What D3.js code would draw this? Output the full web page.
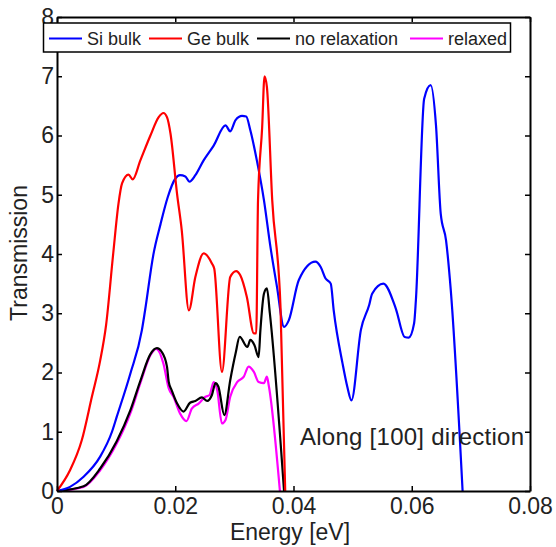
<!DOCTYPE html>
<html>
<head>
<meta charset="utf-8">
<script src="https://cdn.jsdelivr.net/npm/d3@7"></script>
<style>
  body { margin: 0; background: #fff; }
  text { font-family: "Liberation Sans", Arial, sans-serif; }
</style>
</head>
<body>
<script>
// energy [eV] / transmission pairs
var siE = [0, 0.0022, 0.0045, 0.0073, 0.0093, 0.0101, 0.0124, 0.01435, 0.0149, 0.0163, 0.0175, 0.0187, 0.0200, 0.0208, 0.0217, 0.0224, 0.0234, 0.0248, 0.0265, 0.0285, 0.0293, 0.0302, 0.0313, 0.0320, 0.0327, 0.0338, 0.0350, 0.0361, 0.0372, 0.0384, 0.0392, 0.0409, 0.0437, 0.0446, 0.0454, 0.0463, 0.0468, 0.0483, 0.0491, 0.0498, 0.0514, 0.0528, 0.0533, 0.0552, 0.0573, 0.0588, 0.0595, 0.0604, 0.0607, 0.0621, 0.0632, 0.0641, 0.0649, 0.0658, 0.0666, 0.0686];
var siT = [0, 0.07, 0.24, 0.58, 1.0, 1.25, 1.98, 2.71, 3.05, 3.99, 4.5, 4.95, 5.27, 5.33, 5.31, 5.22, 5.33, 5.58, 5.83, 6.17, 6.07, 6.26, 6.33, 6.32, 6.09, 5.58, 4.91, 4.12, 3.45, 2.77, 2.88, 3.56, 3.87, 3.78, 3.59, 3.50, 3.05, 2.15, 1.76, 1.53, 2.72, 3.14, 3.33, 3.50, 3.08, 2.60, 2.59, 2.83, 3.22, 6.62, 6.85, 6.17, 4.68, 4.23, 3.39, 0];

var geE = [0, 0.0022, 0.0042, 0.0059, 0.0073, 0.0083, 0.0095, 0.0104, 0.0110, 0.0121, 0.0128, 0.0141, 0.0158, 0.0172, 0.0180, 0.0186, 0.0192, 0.0203, 0.0211, 0.0223, 0.0234, 0.0248, 0.0262, 0.0266, 0.0279, 0.0293, 0.0303, 0.0310, 0.0321, 0.0333, 0.0337, 0.0340, 0.0347, 0.0351, 0.0355, 0.0364, 0.0378, 0.0386];
var geT = [0, 0.35, 0.86, 1.59, 2.2, 2.8, 4.0, 4.85, 5.19, 5.34, 5.26, 5.58, 6.0, 6.31, 6.38, 6.31, 6.03, 5.02, 4.40, 3.05, 3.61, 4.01, 3.84, 3.75, 2.01, 3.61, 3.71, 3.64, 3.28, 2.66, 2.66, 4.91, 6.14, 7.0, 6.82, 4.91, 3.11, 0];

var noRelE = [0, 0.0045, 0.0073, 0.0101, 0.0124, 0.0141, 0.0158, 0.0169, 0.0177, 0.0186, 0.0189, 0.0194, 0.0203, 0.0214, 0.0225, 0.0234, 0.0245, 0.0254, 0.0262, 0.0268, 0.0273, 0.0283, 0.0293, 0.0302, 0.0309, 0.0322, 0.0327, 0.0334, 0.0341, 0.0344, 0.0350, 0.0355, 0.0360, 0.0384];
var noRelT = [0, 0.08, 0.38, 0.84, 1.36, 1.86, 2.31, 2.41, 2.35, 2.10, 1.84, 1.70, 1.48, 1.34, 1.49, 1.52, 1.58, 1.52, 1.62, 1.82, 1.76, 1.28, 1.87, 2.32, 2.60, 2.43, 2.55, 2.46, 2.26, 2.71, 3.33, 3.42, 3.0, 0];

var relE = [0, 0.0045, 0.0073, 0.0101, 0.0124, 0.0141, 0.0158, 0.0168, 0.0180, 0.0189, 0.0197, 0.0208, 0.0219, 0.0228, 0.0240, 0.0251, 0.0258, 0.0265, 0.0271, 0.0279, 0.0285, 0.0293, 0.0305, 0.0316, 0.0324, 0.0333, 0.0341, 0.0350, 0.0355, 0.0358, 0.0377];
var relT = [0, 0.07, 0.35, 0.80, 1.31, 1.82, 2.29, 2.40, 2.15, 1.73, 1.59, 1.31, 1.18, 1.39, 1.48, 1.59, 1.62, 1.84, 1.70, 1.14, 1.20, 1.59, 1.84, 1.93, 2.10, 2.01, 1.84, 1.82, 1.93, 1.79, 0];

var seriesNames = ['Si bulk', 'Ge bulk', 'no relaxation', 'relaxed'];
var seriesColors = ['#0000ff', '#ff0000', '#000000', '#ff00ff'];
var xTicks = [0, 0.02, 0.04, 0.06, 0.08];
var yTicks = [0, 1, 2, 3, 4, 5, 6, 7, 8];

var width = 556,
    height = 547,
    plotL = 57, plotR = 530, plotT = 17, plotB = 491;

var svg = d3.select('body')
    .append('svg')
    .attr('width', width)
    .attr('height', height);

var x = d3.scaleLinear().domain([0, 0.08]).range([plotL, plotR]);
var y = d3.scaleLinear().domain([0, 8]).range([plotB, plotT]);

var series = [
    d3.zip(siE, siT),
    d3.zip(geE, geT),
    d3.zip(noRelE, noRelT),
    d3.zip(relE, relT)
];

var line = d3.line()
    .curve(d3.curveMonotoneX)
    .x(d => x(d[0]))
    .y(d => y(d[1]));

// relaxed goes under no relaxation, like the figure
[3, 2, 0, 1].forEach(i => {
    svg.append('path')
        .attr('d', line(series[i]))
        .attr('fill', 'none')
        .attr('stroke', seriesColors[i])
        .attr('stroke-width', 2.2)
        .attr('stroke-linejoin', 'round');
});

// axes, ticks inward on all four sides
var fmt = d => d === 0 ? '0' : String(d);
svg.append('g')
    .attr('transform', 'translate(0,' + plotB + ')')
    .call(d3.axisBottom(x).tickValues(xTicks).tickFormat(fmt).tickSizeInner(-5).tickSizeOuter(0).tickPadding(7));
svg.append('g')
    .attr('transform', 'translate(0,' + plotT + ')')
    .call(d3.axisTop(x).tickValues(xTicks).tickFormat('').tickSizeInner(-5).tickSizeOuter(0));
svg.append('g')
    .attr('transform', 'translate(' + plotL + ',0)')
    .call(d3.axisLeft(y).tickValues(yTicks).tickFormat(d3.format('d')).tickSizeInner(-5).tickSizeOuter(0).tickPadding(3));
svg.append('g')
    .attr('transform', 'translate(' + plotR + ',0)')
    .call(d3.axisRight(y).tickValues(yTicks).tickFormat('').tickSizeInner(-5).tickSizeOuter(0));

svg.selectAll('.domain').attr('stroke', '#000').attr('stroke-width', 2);
svg.selectAll('.tick line').attr('stroke', '#000').attr('stroke-width', 1.5);
svg.selectAll('.tick text')
    .attr('font-size', 23)
    .attr('fill', '#222')
    .style('font-family', '"Liberation Sans", Arial, sans-serif');

// axis titles
svg.append('text')
    .attr('x', 290)
    .attr('y', 540)
    .attr('text-anchor', 'middle')
    .attr('font-size', 23)
    .attr('fill', '#222')
    .text('Energy [eV]');

svg.append('text')
    .attr('transform', 'translate(27,253) rotate(-90)')
    .attr('text-anchor', 'middle')
    .attr('font-size', 23)
    .attr('fill', '#222')
    .text('Transmission');

svg.append('text')
    .attr('x', 300)
    .attr('y', 445)
    .attr('font-size', 24)
    .attr('textLength', 224)
    .attr('lengthAdjust', 'spacing')
    .attr('fill', '#222')
    .text('Along [100] direction');

// legend
var legend = svg.append('g');
legend.append('rect')
    .attr('x', 43.5).attr('y', 23)
    .attr('width', 467).attr('height', 29)
    .attr('fill', '#fff')
    .attr('stroke', '#000')
    .attr('stroke-width', 1.5);

var legX = [49, 149, 257, 410];
seriesNames.forEach((name, i) => {
    legend.append('line')
        .attr('x1', legX[i]).attr('x2', legX[i] + 33)
        .attr('y1', 38.5).attr('y2', 38.5)
        .attr('stroke', seriesColors[i])
        .attr('stroke-width', 2);
    legend.append('text')
        .attr('x', legX[i] + 38)
        .attr('y', 45)
        .attr('font-size', 18)
        .attr('fill', '#222')
        .text(name);
});
</script>
</body>
</html>
